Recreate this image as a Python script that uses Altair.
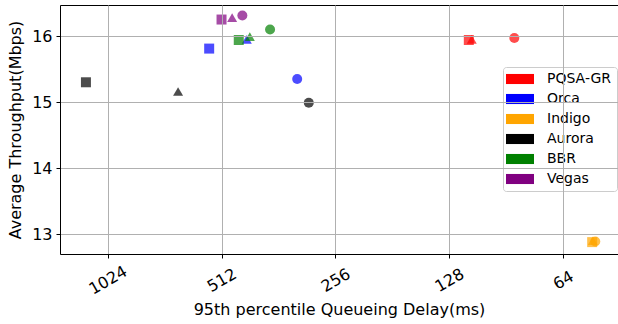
import altair as alt
import pandas as pd

algorithms = ["PQSA-GR", "Orca", "Indigo", "Aurora", "BBR", "Vegas"]
colors = ["red", "blue", "orange", "black", "green", "purple"]
shapes_order = ["square", "triangle-up", "circle"]

# per algorithm: (square, triangle, circle) points
delay_sq = [113.6, 552, 53.6, 1169, 461, 512]
tput_sq = [15.94, 15.81, 12.88, 15.30, 15.94, 16.25]
delay_tr = [111.6, 439, 53.4, 667, 431, 480]
tput_tr = [15.95, 15.95, 12.90, 15.16, 15.99, 16.28]
delay_ci = [86.1, 323, 52.6, 301, 381, 451]
tput_ci = [15.97, 15.35, 12.89, 14.99, 16.10, 16.31]

x_ticks = [1024, 512, 256, 128, 64]
y_ticks = [13, 14, 15, 16]

rows = []
for i, a in enumerate(algorithms):
    rows.append({"alg": a, "shape": "square", "delay": delay_sq[i], "tput": tput_sq[i], "order": i * 3})
    rows.append({"alg": a, "shape": "triangle-up", "delay": delay_tr[i], "tput": tput_tr[i], "order": i * 3 + 1})
    rows.append({"alg": a, "shape": "circle", "delay": delay_ci[i], "tput": tput_ci[i], "order": i * 3 + 2})
df = pd.DataFrame(rows)

FONT = "DejaVu Sans"

xscale = alt.Scale(type="log", base=2, domain=[45.8, 1369], reverse=True, nice=False, zero=False)
yscale = alt.Scale(domain=[12.70, 16.47], nice=False, zero=False)

points = alt.Chart(df).mark_point(filled=True, opacity=0.7, size=100, strokeWidth=0).encode(
    x=alt.X("delay:Q", scale=xscale,
            axis=alt.Axis(values=x_ticks, format="d", title="95th percentile Queueing Delay(ms)",
                          labelAngle=-30, labelAlign="center", labelBaseline="middle",
                          labelPadding=22, titlePadding=4,
                          grid=True, zindex=1)),
    y=alt.Y("tput:Q", scale=yscale,
            axis=alt.Axis(values=y_ticks, title="Average Throughput(Mbps)", grid=True, zindex=1,
                          labelPadding=4, titlePadding=8)),
    color=alt.Color("alg:N", scale=alt.Scale(domain=algorithms, range=colors),
                    legend=alt.Legend(title=None, orient="none", legendX=443, legendY=62,
                                      symbolType="M-2,-0.72H2V0.72H-2Z", symbolSize=196,
                                      symbolOffset=5,
                                      symbolOpacity=1, symbolStrokeWidth=0,
                                      labelFontSize=14, labelFont=FONT, labelColor="black",
                                      labelOffset=20, rowPadding=6, padding=5,
                                      fillColor="white", strokeColor="#cccccc", cornerRadius=3)),
    shape=alt.Shape("shape:N", scale=alt.Scale(domain=shapes_order, range=shapes_order), legend=None),
    order=alt.Order("order:Q"),
)

topborder = alt.Chart(df).mark_point(opacity=0).encode(
    x=alt.X("delay:Q", scale=xscale,
            axis=alt.Axis(orient="top", labels=False, ticks=False, title=None, grid=False, domain=True)),
    y=alt.Y("tput:Q", scale=yscale,
            axis=alt.Axis(orient="right", labels=False, ticks=False, title=None, grid=False, domain=False)),
)

chart = alt.layer(points, topborder).resolve_axis(x="independent", y="independent").properties(
    width=558, height=249,
    autosize=alt.AutoSizeParams(type="none"),
    padding={"left": 60, "top": 5, "right": 0, "bottom": 70},
).configure_view(stroke=None).configure_axis(
    labelFont=FONT, titleFont=FONT, labelFontSize=16, titleFontSize=16,
    labelColor="black", titleColor="black", titleFontWeight="normal",
    domainColor="black", domainWidth=1, tickColor="black", tickSize=4,
    gridColor="#b0b0b0", gridWidth=1,
)

chart.save("out.html", embed_options={"renderer": "svg", "actions": False})
